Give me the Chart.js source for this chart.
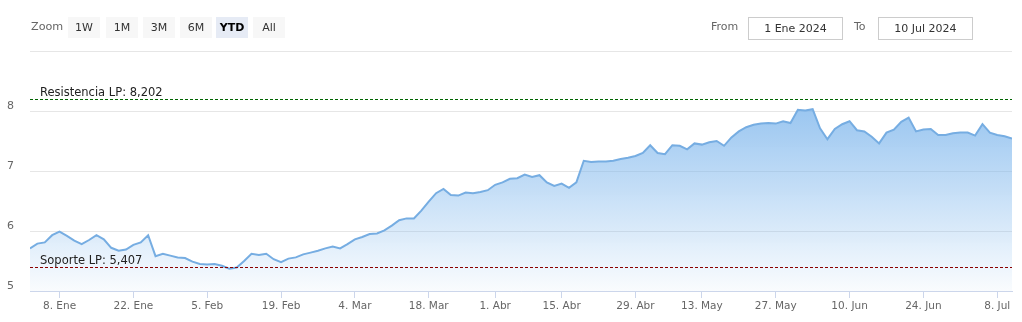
<!DOCTYPE html>
<html>
<head>
<meta charset="utf-8">
<script src="https://cdn.jsdelivr.net/npm/chart.js@4/dist/chart.umd.min.js"></script>
<style>
  html, body { margin: 0; padding: 0; background: #fff; }
  #wrap { position: relative; width: 1022px; height: 322px; font-family: "DejaVu Sans", sans-serif; }
  #chart { position: absolute; left: 0; top: 0; }
  .zoom-lbl { position: absolute; left: 31px; top: 20px; font-size: 11.2px; color: #666; }
  .btn { position: absolute; top: 17px; width: 32px; height: 21px; line-height: 21px; text-align: center;
         background: #f7f7f7; color: #333; font-size: 11px; }
  .btn.on { background: #e6ebf5; color: #000; font-weight: bold; }
  .dlbl { position: absolute; top: 20px; font-size: 11px; color: #666; }
  .dbox { position: absolute; top: 17px; width: 93px; height: 21px; line-height: 21px; border: 1px solid #ccc;
          text-align: center; font-size: 11px; color: #333; box-sizing: content-box; }
</style>
</head>
<body>
<div id="wrap">
  <canvas id="chart" width="1022" height="322"></canvas>
  <div class="zoom-lbl">Zoom</div>
  <div class="btn" style="left:68px">1W</div>
  <div class="btn" style="left:106px">1M</div>
  <div class="btn" style="left:143px">3M</div>
  <div class="btn" style="left:180px">6M</div>
  <div class="btn on" style="left:216px">YTD</div>
  <div class="btn" style="left:253px">All</div>
  <div class="dlbl" style="left:711px">From</div>
  <div class="dbox" style="left:748px">1 Ene 2024</div>
  <div class="dlbl" style="left:854px">To</div>
  <div class="dbox" style="left:878px">10 Jul 2024</div>
</div>
<script>
// precio por sesión (2 ene - 10 jul 2024)
const values = [
  5.71, 5.79, 5.81, 5.93, 5.99, 5.92, 5.84, 5.78, 5.85, 5.93,
  5.86, 5.72, 5.67, 5.69, 5.77, 5.81, 5.93, 5.58, 5.62, 5.59,
  5.56, 5.55, 5.49, 5.45, 5.44, 5.45, 5.42, 5.37, 5.39, 5.50,
  5.62, 5.60, 5.62, 5.53, 5.48, 5.54, 5.56, 5.61, 5.64, 5.67,
  5.71, 5.74, 5.71, 5.78, 5.86, 5.90, 5.95, 5.96, 6.01, 6.09,
  6.18, 6.21, 6.21, 6.34, 6.49, 6.63, 6.70, 6.60, 6.59, 6.64,
  6.63, 6.65, 6.68, 6.77, 6.81, 6.87, 6.88, 6.94, 6.90, 6.93,
  6.81, 6.75, 6.79, 6.72, 6.81, 7.17, 7.15, 7.16, 7.16, 7.17,
  7.20, 7.22, 7.25, 7.30, 7.43, 7.30, 7.28, 7.43, 7.42, 7.36,
  7.46, 7.44, 7.48, 7.50, 7.42, 7.56, 7.66, 7.73, 7.77, 7.79,
  7.80, 7.79, 7.83, 7.80, 8.02, 8.01, 8.03, 7.71, 7.53, 7.70,
  7.78, 7.83, 7.68, 7.66, 7.57, 7.46, 7.64, 7.69, 7.82, 7.89,
  7.66, 7.69, 7.70, 7.60, 7.60, 7.63, 7.64, 7.64, 7.59, 7.78,
  7.64, 7.60, 7.58, 7.54
];

// etiquetas del eje x (índice de sesión)
const tickIdx    = [4, 14, 24, 34, 44, 54, 63, 72, 82, 91, 101, 111, 121, 131];
const tickLabels = ['8. Ene', '22. Ene', '5. Feb', '19. Feb', '4. Mar', '18. Mar', '1. Abr',
                    '15. Abr', '29. Abr', '13. May', '27. May', '10. Jun', '24. Jun', '8. Jul'];
const yTicks = [5, 6, 7, 8, 9];

// soporte / resistencia
const levelValues = [8.202, 5.407];
const levelLabels = ['Resistencia LP: 8,202', 'Soporte LP: 5,407'];
const levelColors = ['#006400', '#8b0000'];

const levelsPlugin = {
  id: 'levels',
  afterDatasetsDraw(chart) {
    const { ctx, chartArea, scales } = chart;
    ctx.save();
    levelValues.forEach((v, i) => {
      const y = Math.round(scales.y.getPixelForValue(v)) + 0.5;
      ctx.strokeStyle = levelColors[i];
      ctx.lineWidth = 1;
      ctx.setLineDash([3, 2]);
      ctx.beginPath();
      ctx.moveTo(chartArea.left, y);
      ctx.lineTo(chartArea.right, y);
      ctx.stroke();
      ctx.setLineDash([]);
      ctx.fillStyle = '#222';
      ctx.font = '11.5px "DejaVu Sans"';
      ctx.textBaseline = 'alphabetic';
      ctx.fillText(levelLabels[i], chartArea.left + 10, y - 3.5);
    });
    ctx.restore();
  }
};

new Chart(document.getElementById('chart'), {
  type: 'line',
  data: {
    datasets: [{
      data: values.map((v, i) => ({ x: i, y: v })),
      borderColor: '#76ade2',
      borderWidth: 2,
      pointRadius: 0,
      tension: 0,
      fill: 'start',
      backgroundColor: ctx => {
        const a = ctx.chart.chartArea;
        if (!a) return 'rgba(124,181,236,0.5)';
        const g = ctx.chart.ctx.createLinearGradient(0, a.top, 0, a.bottom);
        g.addColorStop(0, 'rgba(124,181,236,1)');
        g.addColorStop(1, 'rgba(124,181,236,0.04)');
        return g;
      }
    }]
  },
  options: {
    responsive: false,
    animation: false,
    layout: { padding: { top: 51, right: 10, left: 0, bottom: 0 } },
    plugins: { legend: { display: false }, tooltip: { enabled: false } },
    scales: {
      x: {
        type: 'linear',
        min: 0,
        max: values.length - 1,
        afterBuildTicks: s => { s.ticks = tickIdx.map(v => ({ value: v })); },
        afterFit: s => { s.height = 31; },
        grid: { drawOnChartArea: false, drawTicks: true, tickLength: 7, color: '#ccd6eb' },
        border: { display: true, color: '#ccd6eb' },
        ticks: {
          autoSkip: false,
          maxRotation: 0,
          padding: 2,
          color: '#666',
          font: { family: 'DejaVu Sans', size: 10.5 },
          callback: v => tickLabels[tickIdx.indexOf(v)] ?? ''
        }
      },
      y: {
        min: 5,
        max: 9,
        afterBuildTicks: s => { s.ticks = yTicks.map(v => ({ value: v })); },
        afterFit: s => { s.width = 30; },
        grid: { color: '#e6e6e6', drawTicks: false },
        border: { display: false },
        ticks: {
          padding: 16,
          labelOffset: -5,
          color: '#666',
          font: { family: 'DejaVu Sans', size: 11 },
          callback: v => (v === 9 ? '' : v)
        }
      }
    }
  },
  plugins: [levelsPlugin]
});
</script>
</body>
</html>
